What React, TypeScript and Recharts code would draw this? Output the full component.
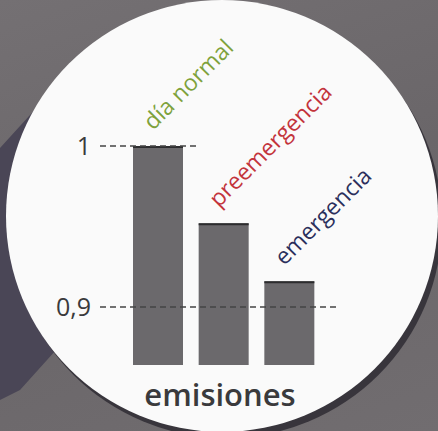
import React from "react";
import { BarChart, Bar, XAxis, YAxis, ReferenceLine, LabelList, Label } from "recharts";

// Emisiones relativas por escenario (día normal = 1)
const categories = ["día normal", "preemergencia", "emergencia"];
const values = [1, 0.952, 0.916];
const labelColors = ["#7ea23c", "#c3343c", "#2b2f5c"];
const yTicks = [0.9, 1];
const yDomain = [0.864, 1];

const data = categories.map((name, i) => ({ name, value: values[i] }));

const W = 438;
const H = 431;
const INK = "#3a3a3c";
const BAR = "#6b696c";
const FONT = "'Open Sans', 'Noto Sans', sans-serif";

function BarShape(props: any) {
  const { x, y, width, height } = props;
  return (
    <g>
      <rect x={x} y={y} width={width} height={height} fill={BAR} />
      <line x1={x} x2={x + width} y1={y + 1} y2={y + 1} stroke="#2c2c2e" strokeWidth={2} />
    </g>
  );
}

function TopLabel(props: any) {
  const { x, y, width, index } = props;
  const ax = x + width / 2 - 5;
  const ay = y - 15;
  return (
    <text x={ax} y={ay} transform={`rotate(-45 ${ax} ${ay})`} fill={labelColors[index]}
      fontSize={23} fontFamily={FONT}>
      {categories[index]}
    </text>
  );
}

// dashed line at 1 only spans the first bar
function ShortLine(props: any) {
  const { x1, x2, y1 } = props;
  const end = x1 + (x2 - x1) * 0.41;
  return <line x1={x1} x2={end} y1={y1} y2={y1} stroke="#444" strokeWidth={1.5} strokeDasharray="6 4" />;
}

export default function App() {
  return (
    <div style={{ position: "fixed", left: 0, top: 0, width: W, height: H, overflow: "hidden",
      background: "linear-gradient(160deg, #747073 0%, #6a6669 50%, #716d70 100%)" }}>
      <svg width={W} height={H} style={{ position: "absolute", left: 0, top: 0 }}>
        <polygon points="0,148 40,104 40,300 56,350 20,390 0,400" fill="#4a4656" />
        <circle cx={226} cy={222} r={216} fill="#38353c" />
        <circle cx={222} cy={216} r={216} fill="#fafafa" />
      </svg>
      <div style={{ position: "absolute", left: 0, top: 0 }}>
        <BarChart width={W} height={H} data={data} margin={{ top: 146, right: 98, bottom: 0, left: 0 }}>
          <XAxis dataKey="name" height={66} tick={false} axisLine={false} tickLine={false}
            padding={{ left: 25, right: 18 }}>
            <Label value="emisiones" position="insideBottom" offset={25} fill={INK}
              fontSize={31} fontWeight={600} fontFamily={FONT} />
          </XAxis>
          <YAxis width={100} domain={yDomain} ticks={yTicks} allowDataOverflow axisLine={false}
            tickLine={false} tickSize={0} tickMargin={9}
            tick={{ fontSize: 25, fill: INK, fontFamily: FONT }}
            tickFormatter={(v: number) => String(v).replace(".", ",")} />
          <ReferenceLine y={0.9} stroke="#444" strokeWidth={1.5} strokeDasharray="6 4" />
          <ReferenceLine y={1} shape={ShortLine} />
          <Bar dataKey="value" barSize={50} shape={BarShape} isAnimationActive={false}>
            <LabelList dataKey="name" content={TopLabel} />
          </Bar>
        </BarChart>
      </div>
    </div>
  );
}
